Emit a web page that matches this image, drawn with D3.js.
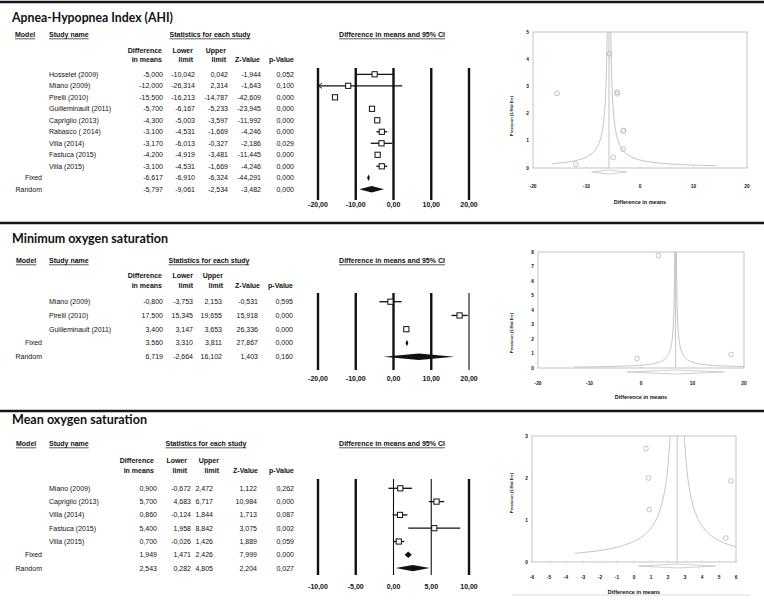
<!DOCTYPE html>
<html>
<head>
<meta charset="utf-8">
<script src="https://cdn.jsdelivr.net/npm/d3@7"></script>
<style>
  body { margin: 0; background: #fff; }
  svg { display: block; }
  text { fill: #111; font-family: "Liberation Sans", Arial, sans-serif; font-size: 7px; }
  .title { font-family: Lato, "Open Sans", sans-serif; font-weight: bold; font-size: 13px; }
  .bold { font-weight: bold; }
  .fn { font-weight: bold; font-size: 4.8px; }
</style>
</head>
<body>
<svg id="chart" width="764" height="606"></svg>
<script>
// ---- Apnea-Hypopnea Index ----
const ahiStudies = ["Hosselet (2009)", "Miano (2009)", "Pirelli (2010)", "Guilleminault  (2011)", "Capriglio (2013)",
    "Rabasco ( 2014)", "Villa (2014)", "Fastuca (2015)", "Villa (2015)"];
const ahiDiff = [-5.000, -12.000, -15.500, -5.700, -4.300, -3.100, -3.170, -4.200, -3.100];
const ahiLower = [-10.042, -26.314, -16.213, -6.167, -5.003, -4.531, -6.013, -4.919, -4.531];
const ahiUpper = [0.042, 2.314, -14.787, -5.233, -3.597, -1.669, -0.327, -3.481, -1.669];
const ahiZ = [-1.944, -1.643, -42.609, -23.945, -11.992, -4.246, -2.186, -11.445, -4.246];
const ahiP = [0.052, 0.100, 0.000, 0.000, 0.000, 0.000, 0.029, 0.000, 0.000];
const ahiPrecision = [0.39, 0.14, 2.75, 4.2, 2.79, 1.37, 0.69, 2.73, 1.37];
const ahiFixed = [-6.617, -6.910, -6.324, -44.291, 0.000];
const ahiRandom = [-5.797, -9.061, -2.534, -3.482, 0.000];
const ahiForestTicks = [-20, -10, 0, 10, 20];
const ahiFunnelXTicks = [-20, -10, 0, 10, 20];
const ahiFunnelYTicks = [0, 1, 2, 3, 4, 5];

// ---- Minimum oxygen saturation ----
const minStudies = ["Miano  (2009)", "Pirelli (2010)", "Guilleminault  (2011)"];
const minDiff = [-0.800, 17.500, 3.400];
const minLower = [-3.753, 15.345, 3.147];
const minUpper = [2.153, 19.655, 3.653];
const minZ = [-0.531, 15.918, 26.336];
const minP = [0.595, 0.000, 0.000];
const minPrecision = [0.66, 0.93, 7.75];
const minFixed = [3.560, 3.310, 3.811, 27.867, 0.000];
const minRandom = [6.719, -2.664, 16.102, 1.403, 0.160];
const minForestTicks = [-20, -10, 0, 10, 20];
const minFunnelXTicks = [-20, -10, 0, 10, 20];
const minFunnelYTicks = [0, 1, 2, 3, 4, 5, 6, 7, 8];

// ---- Mean oxygen saturation ----
const meanStudies = ["Miano (2009)", "Capriglio (2013)", "Villa (2014)", "Fastuca (2015)", "Villa (2015)"];
const meanDiff = [0.900, 5.700, 0.860, 5.400, 0.700];
const meanLower = [-0.672, 4.683, -0.124, 1.958, -0.026];
const meanUpper = [2.472, 6.717, 1.844, 8.842, 1.426];
const meanZ = [1.122, 10.984, 1.713, 3.075, 1.889];
const meanP = [0.262, 0.000, 0.087, 0.002, 0.059];
const meanPrecision = [1.25, 1.93, 2.0, 0.57, 2.7];
const meanFixed = [1.949, 1.471, 2.426, 7.999, 0.000];
const meanRandom = [2.543, 0.282, 4.805, 2.204, 0.027];
const meanForestTicks = [-10, -5, 0, 5, 10];
const meanFunnelXTicks = [-6, -5, -4, -3, -2, -1, 0, 1, 2, 3, 4, 5, 6];
const meanFunnelYTicks = [0, 1, 2, 3];

const colHeads = [["Difference", "in means"], ["Lower", "limit"], ["Upper", "limit"], ["", "Z-Value"], ["", "p-Value"]];

const locale = d3.formatLocale({decimal: ",", thousands: ".", grouping: [3], currency: ["", ""], minus: "-"});
const fmt3 = locale.format(".3f");
const fmt2 = locale.format(".2f");

const svg = d3.select("#chart");
const grey = "#c4c4c4";

// separator lines
[2, 223, 411].forEach(y => {
    svg.append("line").attr("x1", 0).attr("x2", 764).attr("y1", y).attr("y2", y)
        .attr("stroke", "#151515").attr("stroke-width", 2.5);
});
svg.append("line").attr("x1", 512).attr("x2", 750).attr("y1", 595).attr("y2", 595)
    .attr("stroke", "#ddd").attr("stroke-width", 1);

function underlined(g, x, y, txt, anchor) {
    let t = g.append("text").attr("class", "bold").attr("x", x).attr("y", y)
        .attr("dy", "0.35em").attr("text-anchor", anchor).text(txt);
    let w = t.node().getComputedTextLength();
    let x0 = anchor === "middle" ? x - w / 2 : x;
    g.append("line").attr("x1", x0).attr("x2", x0 + w).attr("y1", y + 3.8).attr("y2", y + 3.8)
        .attr("stroke", "#111").attr("stroke-width", 0.7);
}

function drawSection(d, L) {
    let g = svg.append("g");
    g.append("text").attr("class", "title").attr("x", 12).attr("y", L.titleY)
        .attr("textLength", L.titleW).attr("lengthAdjust", "spacingAndGlyphs").text(d.title);

    underlined(g, L.modelX, L.headY, "Model", "start");
    underlined(g, 49, L.headY, "Study name", "start");
    underlined(g, L.statsX, L.headY, "Statistics for each study", "middle");
    underlined(g, 392, L.headY, "Difference in means and 95% CI", "middle");

    colHeads.forEach((h, i) => {
        h.forEach((line, j) => {
            g.append("text").attr("class", "bold").attr("x", L.headX[i]).attr("y", L.colHeadY[j])
                .attr("dy", "0.35em").attr("text-anchor", "end").text(line);
        });
    });

    let rowY = i => L.rowY0 + i * L.rowStep;

    // study rows
    let rows = d.studies.map((s, i) => ({name: s, vals: [d.diff[i], d.lower[i], d.upper[i], d.z[i], d.p[i]], y: rowY(i)}));
    let models = [["Fixed", d.fixed], ["Random", d.random]].map((m, k) => ({model: m[0], vals: m[1], y: rowY(d.studies.length + k)}));

    rows.forEach(r => {
        g.append("text").attr("x", 49).attr("y", r.y).attr("dy", "0.35em").text(r.name);
    });
    models.forEach(m => {
        g.append("text").attr("x", 42).attr("y", m.y).attr("dy", "0.35em").attr("text-anchor", "end").text(m.model);
    });
    rows.concat(models).forEach(r => {
        r.vals.forEach((v, i) => {
            g.append("text").attr("x", L.valX[i]).attr("y", r.y).attr("dy", "0.35em")
                .attr("text-anchor", "end").text(fmt3(v));
        });
    });

    // forest plot
    let x = d3.scaleLinear().domain(d3.extent(d.forestTicks)).range([318, 469]);
    d.forestTicks.forEach(t => {
        g.append("line").attr("x1", x(t)).attr("x2", x(t)).attr("y1", L.fy0).attr("y2", L.fy1)
            .attr("stroke", "#111").attr("stroke-width", L.thin.includes(t) ? 1.1 : 2.4);
        g.append("text").attr("class", "bold").attr("x", x(t)).attr("y", L.fLabelY).attr("dy", "0.35em")
            .attr("text-anchor", "middle").text(fmt2(t));
    });
    let [dMin, dMax] = x.domain();
    rows.forEach(r => {
        let lo = Math.max(r.vals[1], dMin), hi = Math.min(r.vals[2], dMax);
        g.append("line").attr("x1", x(lo)).attr("x2", x(hi)).attr("y1", r.y).attr("y2", r.y)
            .attr("stroke", "#111").attr("stroke-width", 1.3);
        if (r.vals[1] < dMin) {
            g.append("path").attr("d", `M${x(lo) + 4},${r.y - 2.5}L${x(lo)},${r.y}L${x(lo) + 4},${r.y + 2.5}`)
                .attr("fill", "none").attr("stroke", "#111").attr("stroke-width", 0.9);
        }
        if (r.vals[2] > dMax) {
            g.append("path").attr("d", `M${x(hi) - 4},${r.y - 2.5}L${x(hi)},${r.y}L${x(hi) - 4},${r.y + 2.5}`)
                .attr("fill", "none").attr("stroke", "#111").attr("stroke-width", 0.9);
        }
        g.append("rect").attr("x", x(r.vals[0]) - 2.6).attr("y", r.y - 2.6).attr("width", 5.2).attr("height", 5.2)
            .attr("fill", "#fff").attr("stroke", "#111").attr("stroke-width", 1);
    });
    models.forEach(m => {
        let cx = x(m.vals[0]);
        let l = Math.min(x(m.vals[1]), cx - 1.4), u = Math.max(x(m.vals[2]), cx + 1.4);
        g.append("path").attr("d", `M${l},${m.y}L${cx},${m.y - 3.2}L${u},${m.y}L${cx},${m.y + 3.2}Z`)
            .attr("fill", "#111");
    });

    // funnel plot
    let F = L.funnel;
    let fx = d3.scaleLinear().domain(d3.extent(d.funnelXTicks)).range([F.x0, F.x1]);
    let fy = d3.scaleLinear().domain(d3.extent(d.funnelYTicks)).range([F.y0, F.y1]);
    let clipId = "clip" + L.id;
    g.append("clipPath").attr("id", clipId).append("rect")
        .attr("x", F.x0).attr("y", F.y1).attr("width", F.x1 - F.x0).attr("height", F.y0 - F.y1);
    g.append("rect").attr("x", F.x0).attr("y", F.y1).attr("width", F.x1 - F.x0).attr("height", F.y0 - F.y1)
        .attr("fill", "none").attr("stroke", grey).attr("stroke-width", 1);
    d.funnelXTicks.forEach(t => {
        g.append("text").attr("class", "fn").attr("x", fx(t)).attr("y", F.xLabelY).attr("dy", "0.35em")
            .attr("text-anchor", "middle").text(t);
        g.append("line").attr("x1", fx(t)).attr("x2", fx(t)).attr("y1", F.y0).attr("y2", F.y0 - 1.5)
            .attr("stroke", grey).attr("stroke-width", 0.8);
    });
    d.funnelYTicks.forEach(t => {
        g.append("text").attr("class", "fn").attr("x", F.yTickX).attr("y", fy(t)).attr("dy", "0.35em")
            .attr("text-anchor", "end").text(t);
    });
    g.append("text").attr("class", "fn").style("font-size", "5.5px").attr("x", (F.x0 + F.x1) / 2)
        .attr("y", F.titleY).attr("dy", "0.35em").attr("text-anchor", "middle").text("Difference in means");
    g.append("text").attr("class", "fn").style("font-size", "4.2px")
        .attr("transform", `translate(${F.yLabelX},${F.yLabelY}) rotate(-90)`)
        .attr("text-anchor", "middle").text("Precision (1/Std Err)");

    let mean = d.random[0];
    let fg = g.append("g").attr("clip-path", `url(#${clipId})`);
    fg.append("line").attr("x1", fx(mean)).attr("x2", fx(mean)).attr("y1", F.y0).attr("y2", F.y1)
        .attr("stroke", grey).attr("stroke-width", 1);
    let yTop = fy.domain()[1];
    [-1, 1].forEach((side, k) => {
        let yStart = F.z / Math.abs(F.curveExt[k] - mean);
        let pts = d3.range(0, 61).map(i => {
            let yy = yStart * Math.pow(yTop / yStart, i / 60);
            return [mean + side * F.z / yy, yy];
        });
        fg.append("path").attr("d", d3.line().x(p => fx(p[0])).y(p => fy(p[1]))(pts))
            .attr("fill", "none").attr("stroke", grey).attr("stroke-width", 1);
    });
    d.diff.forEach((v, i) => {
        g.append("circle").attr("cx", fx(v)).attr("cy", fy(d.precision[i])).attr("r", 2.4)
            .attr("fill", "none").attr("stroke", "#b4b4b4").attr("stroke-width", 0.8);
    });
    let dy = F.y0 + 4;
    g.append("path")
        .attr("d", `M${fx(d.random[1])},${dy}L${fx(mean)},${dy - 2}L${fx(d.random[2])},${dy}L${fx(mean)},${dy + 2}Z`)
        .attr("fill", "none").attr("stroke", grey).attr("stroke-width", 0.8);
}

drawSection(
    {title: "Apnea-Hypopnea Index (AHI)", studies: ahiStudies, diff: ahiDiff, lower: ahiLower, upper: ahiUpper,
        z: ahiZ, p: ahiP, precision: ahiPrecision, fixed: ahiFixed, random: ahiRandom,
        forestTicks: ahiForestTicks, funnelXTicks: ahiFunnelXTicks, funnelYTicks: ahiFunnelYTicks},
    {id: 1, titleY: 22, titleW: 161, headY: 35, modelX: 15, statsX: 210, colHeadY: [51, 60], rowY0: 74.3, rowStep: 11.5,
        valX: [163, 195, 228, 261, 294], headX: [162, 193, 226, 260, 294],
        fy0: 68, fy1: 200, fLabelY: 205, thin: [],
        funnel: {x0: 533, x1: 747, y0: 168, y1: 32, xLabelY: 186, titleY: 202, yTickX: 529,
            yLabelX: 513, yLabelY: 116, z: 1.7, curveExt: [-16.4, 14.2]}}
);

drawSection(
    {title: "Minimum oxygen saturation", studies: minStudies, diff: minDiff, lower: minLower, upper: minUpper,
        z: minZ, p: minP, precision: minPrecision, fixed: minFixed, random: minRandom,
        forestTicks: minForestTicks, funnelXTicks: minFunnelXTicks, funnelYTicks: minFunnelYTicks},
    {id: 2, titleY: 243, titleW: 156, headY: 261, modelX: 16, statsX: 209, colHeadY: [276, 285.5], rowY0: 301.7, rowStep: 13.75,
        valX: [163, 193, 222, 258, 293], headX: [162, 193, 223, 260, 293],
        fy0: 293, fy1: 370, fLabelY: 379, thin: [20],
        funnel: {x0: 538, x1: 744, y0: 368, y1: 252, xLabelY: 383, titleY: 397, yTickX: 534,
            yLabelX: 513, yLabelY: 333, z: 1.3, curveExt: [-13, 20]}}
);

drawSection(
    {title: "Mean oxygen saturation", studies: meanStudies, diff: meanDiff, lower: meanLower, upper: meanUpper,
        z: meanZ, p: meanP, precision: meanPrecision, fixed: meanFixed, random: meanRandom,
        forestTicks: meanForestTicks, funnelXTicks: meanFunnelXTicks, funnelYTicks: meanFunnelYTicks},
    {id: 3, titleY: 424, titleW: 135, headY: 444, modelX: 16, statsX: 206, colHeadY: [460.7, 471], rowY0: 488.3, rowStep: 13.3,
        valX: [157, 191, 213, 257, 294], headX: [154, 187, 219, 258, 294],
        fy0: 479, fy1: 575, fLabelY: 587, thin: [0, 5],
        funnel: {x0: 532, x1: 736, y0: 562, y1: 436, xLabelY: 577, titleY: 592, yTickX: 528,
            yLabelX: 513, yLabelY: 493, z: 1.25, curveExt: [-3.5, 6]}}
);
</script>
</body>
</html>
